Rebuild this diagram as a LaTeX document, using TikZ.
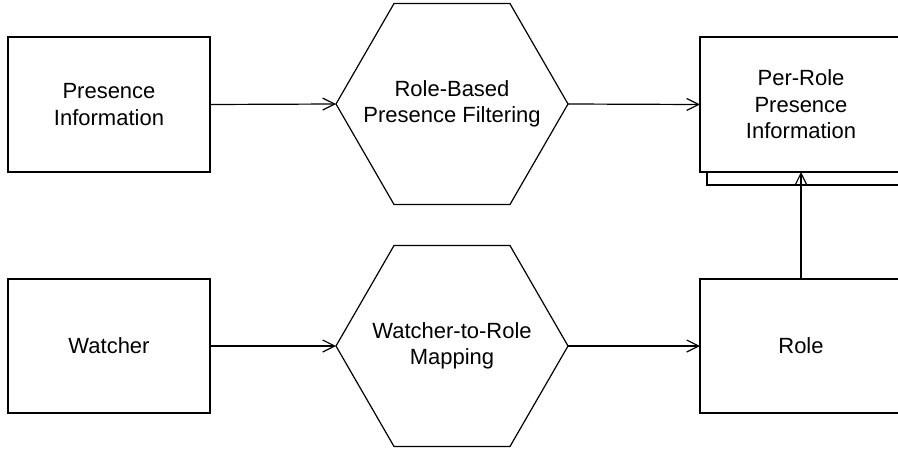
\documentclass[tikz,border=0pt]{standalone}
\usepackage{fontspec}
\setmainfont{Liberation Sans}
\usetikzlibrary{shapes.geometric,arrows.meta}
\tikzset{
  every node/.style={font=\fontsize{22}{26.5}\selectfont, align=center, inner sep=0pt, outer sep=0pt},
  boxnode/.style={draw, fill=white, line width=1.2pt, minimum width=202pt, minimum height=135pt},
  hexnode/.style={draw, fill=white, line width=1.2pt, regular polygon, regular polygon sides=6, minimum size=232pt},
  flow/.style={line width=1.2pt, -{Straight Barb[length=12pt, width=12pt, line width=1.2pt]}}
}
\begin{document}
\begin{tikzpicture}[x=1pt, y=-1pt]
\useasboundingbox (0,0) rectangle (898,450);
\clip (0,0) rectangle (898,450);
% shadow of stacked box
\draw[line width=1.2pt, fill=white] (707,50) rectangle (915,185);
\node[boxnode] (pi) at (109,104.5) {Presence\\Information};
\node[boxnode, minimum height=134pt] (watcher) at (109,346) {Watcher};
\node[hexnode] (rbf) at (452,104) {};
\node (rbftext) at (rbf.center) {Role-Based\\Presence Filtering};
\node[hexnode] (wrm) at (452,346) {};
\node (wrmtext) at (wrm.center) {Watcher-to-Role\\Mapping};
\node[boxnode] (prp) at (801,104.5) {Per-Role\\Presence\\Information};
\node[boxnode, minimum height=134pt] (role) at (801,346) {Role};
\draw[flow] (pi.east) -- (rbf.west);
\draw[flow] (rbf.east) -- (prp.west);
\draw[flow] (watcher.east) -- (wrm.west);
\draw[flow] (wrm.east) -- (role.west);
\draw[flow] (role.north) -- (prp.south);
\end{tikzpicture}
\end{document}
